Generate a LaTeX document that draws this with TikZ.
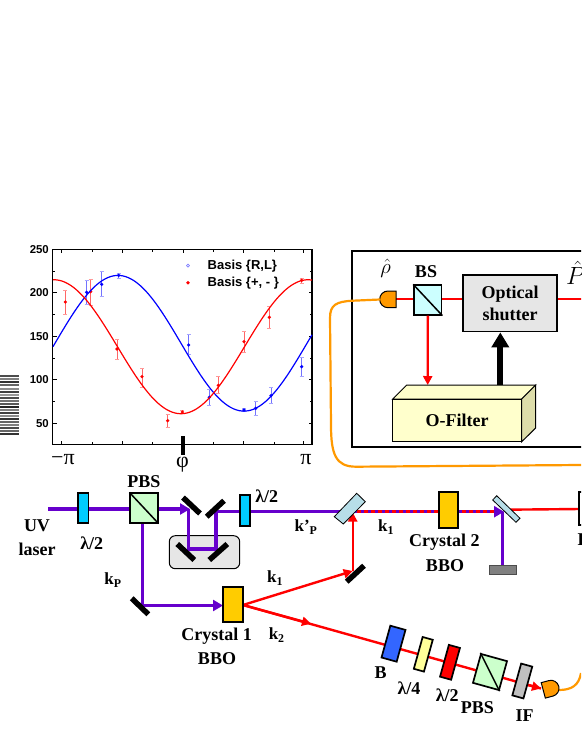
\documentclass[tikz,border=0pt]{standalone}
\usepackage{fontspec}
\setmainfont{Liberation Serif}
\setsansfont{Liberation Sans}
\usepackage{amsmath}
\usetikzlibrary{arrows.meta,calc}
\definecolor{uv}{HTML}{6600CC}
\definecolor{org}{HTML}{FF9900}
\definecolor{mirr}{HTML}{B7DEE8}
\definecolor{filt}{HTML}{FFFFCC}
\definecolor{filtside}{HTML}{DDDDAA}
\definecolor{hwp}{HTML}{00CCFF}
\definecolor{bbo}{HTML}{FFCC00}
\definecolor{cube}{HTML}{CCFFCC}
\definecolor{bscube}{HTML}{CCFFFF}
\definecolor{bplate}{HTML}{3366FF}
\definecolor{qwp}{HTML}{FFFF99}
\definecolor{iff}{HTML}{C0C0C0}
\definecolor{pale}{HTML}{E6E6E6}
\tikzset{
 x=1pt,y=-1pt,
 lbl/.style={font=\bfseries\fontsize{18}{18}\selectfont,inner sep=0pt},
 klbl/.style={font=\bfseries\fontsize{17}{17}\selectfont,inner sep=0pt},
 ticklbl/.style={font=\sffamily\bfseries\fontsize{11.4}{12}\selectfont,inner sep=0pt},
 leglbl/.style={font=\sffamily\bfseries\fontsize{13}{13}\selectfont,inner sep=0pt,anchor=west},
 mathlbl/.style={font=\fontsize{22}{22}\selectfont,inner sep=0pt},
 uvbeam/.style={draw=uv,line width=3.4pt},
 redbeam/.style={draw=red,line width=2.4pt},
 uvtip/.style={-{Triangle[length=10pt,width=11pt,fill=uv]}},
 redtip/.style={-{Triangle[length=9pt,width=9pt,fill=red]}},
 plate/.style={draw=black,line width=1.7pt,inner sep=0pt},
 mirrorbar/.style={draw=black,line width=5.5pt},
 fiber/.style={draw=org,line width=2.2pt},
 box/.style={draw=black,line width=1.7pt},
 err/.style={line width=.9pt},
 pt/.style={radius=1.8pt},
}
\begin{document}
\begin{tikzpicture}
\useasboundingbox (0,0) rectangle (581,752);
\clip (0,0) rectangle (581,752);
\fill[white] (0,0) rectangle (581,752);
% ---- squashed axis title stripes
\foreach \yy/\g in {375/70,378/50,381/80,384/60,388/45,391/75,394/40,397/70,400/55,403/65,406/85,409/50,412/75,415/45,418/80,421/60,424/50,427/70,430/60,433/80}{
 \fill[black!\g] (0,\yy) rectangle (19,\yy+1.6);
}
% ---- plot
\draw[line width=1.2pt] (52.5,249.5) rectangle (312,444.5);
\foreach \v in {250,200,150,100,50}{
 \pgfmathsetmacro\yy{423.3-(\v-50)*0.87}
 \draw[line width=1pt] (52.5,\yy) -- ++(4,0);
 \draw[line width=1pt] (312,\yy) -- ++(-3,0);
 \node[ticklbl,anchor=east] at (49,\yy) {\v};
}
\foreach \v in {225,175,125,75}{
 \pgfmathsetmacro\yy{423.3-(\v-50)*0.87}
 \draw[line width=.8pt] (52.5,\yy) -- ++(2.5,0);
 \draw[line width=.8pt] (312,\yy) -- ++(-2,0);
}
\foreach \xx in {61.7,122.3,183,243.7,303.3}{
 \draw[line width=1pt] (\xx,444.5) -- ++(0,-4);
 \draw[line width=1pt] (\xx,249.5) -- ++(0,3);
}
\foreach \xx in {92,152.7,213.3,274}{
 \draw[line width=.8pt] (\xx,444.5) -- ++(0,-2.5);
 \draw[line width=.8pt] (\xx,249.5) -- ++(0,2);
}
% error bars (coordinates: x, centre, low, high)
\foreach \xx/\c/\l/\h in {260/172/135/208,305/148/108/185,356/121/115/130,566/330/298/358,628/487/463/512,732/525/520/530,767/520/498/542,813/482/457/505,905/395/367/425}{
 \draw[err,blue!55] (\xx/3,235+\l/3) -- (\xx/3,235+\h/3);
 \draw[err,blue!35] (\xx/3-2,235+\l/3) -- (\xx/3+2,235+\l/3) (\xx/3-2,235+\h/3) -- (\xx/3+2,235+\h/3);
 \fill[blue] (\xx/3,235+\c/3) circle[pt];
}
\foreach \xx/\c/\l/\h in {196/201/165/238,272/170/132/212,351/342/313/374,426/425/400/458,503/557/538/577,547/531/526/536,655/451/425/476,732/320/288/352,808/247/213/281,905/136/131/146}{
 \draw[err,red!60] (\xx/3,235+\l/3) -- (\xx/3,235+\h/3);
 \draw[err,red!40] (\xx/3-2,235+\l/3) -- (\xx/3+2,235+\l/3) (\xx/3-2,235+\h/3) -- (\xx/3+2,235+\h/3);
 \fill[red] (\xx/3,235+\c/3) circle[pt];
}
\draw[blue,line width=1.2pt] plot[domain=53:312,samples=90,smooth] (\x,{423.3-(142+78*cos(1.42857*(\x-118))-50)*0.87});
\draw[red,line width=1.2pt] plot[domain=53:312,samples=90,smooth] (\x,{423.3-(138-77*cos(1.41732*(\x-181))-50)*0.87});
\draw[blue!50,line width=.7pt] (188,265.7) circle[radius=1.5pt];
\fill[red] (188,282.7) circle[pt];
\node[leglbl] at (207.5,265.7) {Basis \{R,L\}};
\node[leglbl] at (207.5,283) {Basis \{+, - \}};
\draw[line width=4pt] (183,436) -- (183,455);
\node[mathlbl] at (63,460) {−π};
\node[mathlbl] at (182.5,465) {φ};
\node[mathlbl] at (306,460) {π};
% ---- shutter box
\draw[box] (352.3,250.7) rectangle (600,447);
\draw[redbeam] (396,299) -- (414,299) (441,299) -- (463,299) (557,299) -- (590,299);
\node[draw=black,line width=1.7pt,fill=bscube,inner sep=0pt,minimum width=27.5pt,minimum height=29.5pt] (bs) at (427.8,300) {};
\draw[line width=1.5pt] (bs.north west) -- (bs.south east);
\node[lbl] at (426,272) {BS};
\node[mathlbl] at (385.7,268) {$\hat{\rho}$};
\node[mathlbl,font=\fontsize{26}{26}\selectfont,anchor=west] at (566,273) {$\hat{P}$};
\draw[fill=org,line width=1pt] (396,291) -- (388,291) arc[start angle=90,end angle=270,radius=8.35pt] -- (396,307.7) -- cycle;
\node[draw=black,line width=1.7pt,fill=pale,minimum width=94.5pt,minimum height=56.5pt,align=center,inner sep=0pt,font=\bfseries\fontsize{18}{22}\selectfont] (shutter) at (510,303.3) {Optical\\shutter};
\draw[redbeam,redtip] (bs.south) -- (427.7,385);
\filldraw[fill=filt,draw=black,line width=1pt] (392.7,399) -- (406.7,385) -- (535.7,385) -- (521.7,399) -- cycle;
\filldraw[fill=filtside,draw=black,line width=1pt] (521.7,399) -- (535.7,385) -- (535.7,428) -- (521.7,441.7) -- cycle;
\node[draw=black,line width=1pt,fill=filt,minimum width=129pt,minimum height=42.7pt,inner sep=0pt,font=\bfseries\fontsize{18}{18}\selectfont] (ofilter) at (457.2,420.35) {O-Filter};
\coordinate (ofiltertop) at (500.3,385);
\draw[line width=6pt,-{Triangle[length=15pt,width=17pt,fill=black]}] (ofiltertop) -- (shutter.south -| ofiltertop);
% fibre
\draw[fiber] (380,299.5) -- (353,300.7) .. controls (336,301.5) and (330,305) .. (330,318) -- (331,425) .. controls (331,455) and (336,466.7) .. (356,466.7) -- (581,465);
% ---- lower optical table
\node[draw=black,line width=1pt,fill=pale,rounded corners=6pt,minimum width=70.4pt,minimum height=33pt,inner sep=0pt] (delay) at (204.5,552.2) {};
\coordinate (uvstart) at (48,509);
\coordinate (m1) at (188.5,509);
\coordinate (m3) at (188.5,549);
\coordinate (m4) at (216,549);
\coordinate (m2) at (216,511.7);
\coordinate (bs2) at (350,511.7);
\coordinate (m5) at (142.7,605.5);
\coordinate (c1out) at (243,605);
\coordinate (m6) at (352.7,571);
\coordinate (m7) at (502.7,511.7);
\coordinate (blk) at (502.7,565.3);
\draw[uvbeam,line join=miter] (m1) -- (m3) -- (m4) -- (m2) -- (bs2);
\draw[uvbeam,uvtip] (uvstart) -- (190,509);
\draw[uvbeam,uvtip] (142.7,522) -- (m5) -- (223,605.5);
\draw[uvbeam] (m7) -- (blk);
\draw[uvbeam,uvtip] (bs2) -- (504,511.7);
\draw[draw=red,line width=3.4pt,dash pattern=on 3.5pt off 3.5pt] (bs2) -- (495,511.7);
\draw[redbeam,redtip] (c1out) -- (m6);
\draw[redbeam,redtip] (m6) -- (352.7,512.5);
\draw[redbeam] (c1out) -- (541,688.5);
\draw[redbeam,redtip] (c1out) -- (311,623.7);
\draw[redbeam,redtip] (515,681.5) -- (541,688.5);
\draw[redbeam] (505,509.7) -- (580,509);
% mirrors
\draw[mirrorbar] (183,497.5) -- (200,513.5);
\draw[mirrorbar] (206.7,516.7) -- (224,500.7);
\draw[mirrorbar] (177.3,544) -- (194.3,560);
\draw[mirrorbar] (209.3,560) -- (227.3,544);
\draw[mirrorbar] (131.7,598.3) -- (148.3,614.3);
\draw[mirrorbar] (346.7,581.7) -- (364,565.7);
% plates
\node[plate,fill=hwp,minimum width=10.3pt,minimum height=30pt] (hw1) at (83.2,507.7) {};
\node[plate,fill=hwp,minimum width=10.3pt,minimum height=30.7pt] (hw2) at (244.8,510.3) {};
\node[plate,fill=cube,minimum width=27.4pt,minimum height=29.4pt] (pbs1) at (144,508) {};
\draw[line width=1.5pt] (pbs1.north west) -- (pbs1.south east);
\node[plate,fill=bbo,minimum width=19.4pt,minimum height=35.6pt] (c1) at (233,604.5) {};
\node[plate,fill=bbo,minimum width=19.6pt,minimum height=36pt] (c2) at (448.5,510.3) {};
\filldraw[fill=mirr,draw=black,line width=.8pt] (334.3,516.7) -- (356.7,493.3) -- (365.3,501.7) -- (343.3,524) -- cycle;
\filldraw[fill=mirr,draw=black,line width=.8pt] (492.7,500) -- (496.7,495.7) -- (520,518.3) -- (516,522.3) -- cycle;
\node[draw=black!70,line width=.6pt,fill=black!50,minimum width=27.4pt,minimum height=8.7pt,inner sep=0pt] (block) at (502.9,569.7) {};
\node[plate,fill=white,minimum width=20pt,minimum height=33pt,anchor=west] (det) at (578.3,508.5) {};
% tilted arm
\node[plate,fill=bplate,minimum width=15.7pt,minimum height=33pt,rotate=-15.5] (b) at (393.5,643.7) {};
\node[plate,fill=qwp,minimum width=10.5pt,minimum height=33pt,rotate=-15.5] (q4) at (423.3,654.3) {};
\node[plate,fill=red,minimum width=11.5pt,minimum height=33pt,rotate=-15.5] (h2) at (450,662.3) {};
\node[plate,fill=cube,minimum width=27pt,minimum height=30pt,rotate=-15.5] (pbs2) at (490,672) {};
\draw[line width=1.5pt] (pbs2.north west) -- (pbs2.south east);
\node[plate,fill=iff,minimum width=11.5pt,minimum height=33pt,rotate=-15.5] (ifil) at (522.3,681) {};
\draw[fiber] (559,690) .. controls (572,690) and (579,685) .. (581,673);
\begin{scope}[shift={(551,688.3)},rotate=15]
\draw[fill=org,line width=1pt] (-8,-8) -- (0,-8) arc[start angle=90,end angle=-90,radius=8pt] -- (-8,8) -- cycle;
\end{scope}
% labels
\node[lbl] at (144,481.7) {PBS};
\node[lbl] at (37,526) {UV};
\node[lbl] at (37,549) {laser};
\node[lbl] at (91.7,543) {λ/2};
\node[lbl] at (266.7,496) {λ/2};
\node[klbl] at (113,580) {k\textsubscript{P}};
\node[klbl] at (275,578) {k\textsubscript{1}};
\node[klbl] at (276.7,635) {k\textsubscript{2}};
\node[klbl] at (306,527) {k’\textsubscript{P}};
\node[klbl] at (386,527) {k\textsubscript{1}};
\node[lbl] at (216.7,635.7) {Crystal 1};
\node[lbl] at (217,658.7) {BBO};
\node[lbl] at (444.3,542) {Crystal 2};
\node[lbl] at (445,565.7) {BBO};
\node[lbl] at (380.7,672.3) {B};
\node[lbl] at (409,688.3) {λ/4};
\node[lbl] at (447.3,695) {λ/2};
\node[lbl] at (477.3,707.7) {PBS};
\node[lbl] at (524.7,716) {IF};
\node[lbl,anchor=west] at (577.5,540) {D};
\end{tikzpicture}
\end{document}
